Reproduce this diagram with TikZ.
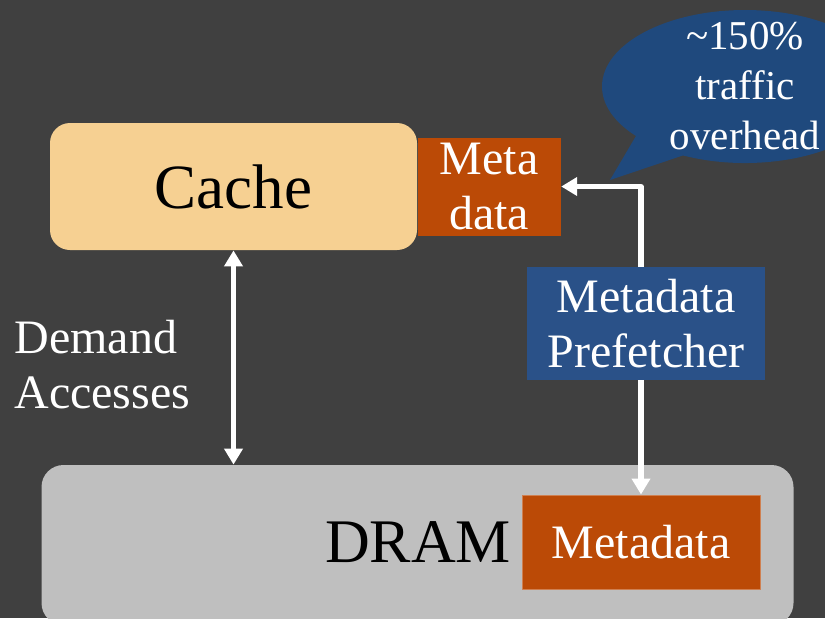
\documentclass[tikz,border=0pt]{standalone}
\usepackage{fontspec}
\setmainfont{Liberation Serif}
\usetikzlibrary{arrows.meta,positioning,shapes.callouts}
\definecolor{bgdark}{HTML}{404040}
\definecolor{cachefill}{HTML}{F6D092}
\definecolor{dramfill}{HTML}{BFBFBF}
\definecolor{metafill}{HTML}{BB4A06}
\definecolor{prefill}{HTML}{2A5188}
\definecolor{bubblefill}{HTML}{1F497D}
\begin{document}
\begin{tikzpicture}[line cap=round,line join=round,x=0.5pt,y=-0.5pt,
	wbox/.style={inner sep=0pt,align=center,text=white,font=\fontsize{24}{27.5}\selectfont},
	flow/.style={draw=white,line width=2.6pt,{Triangle[width=9pt,length=8pt]}-{Triangle[width=9pt,length=8pt]}}]
	\useasboundingbox (0,0) rectangle (825,618);
	\clip (0,0) rectangle (825,618);
	\fill[bgdark] (0,0) rectangle (825,618);
	% boxes
	\node[fill=cachefill,rounded corners=10pt,minimum width=183.5pt,minimum height=63.5pt,inner sep=0pt,
		font=\fontsize{31.5}{36}\selectfont] (cache) at (233.5,186.5) {Cache};
	\node[wbox,fill=metafill,minimum width=71.5pt,minimum height=49pt,right=0pt of cache] (meta) {Meta\\data};
	\node[fill=dramfill,rounded corners=11pt,minimum width=376pt,minimum height=80pt,inner sep=0pt] (dram) at (417.5,545) {};
	\node[wbox,fill=metafill,draw=metafill!70!white,line width=0.5pt,minimum width=119pt,minimum height=47pt] (dmeta) at (641,542) {Metadata};
	\node[inner sep=0pt,font=\fontsize{31}{36}\selectfont,left=5pt of dmeta] (dramlbl) {DRAM};
	% arrows
	\draw[flow] (cache.south) -- (cache.south |- dram.north);
	\draw[flow] (meta.east) -| (dmeta.north);
	\node[wbox,fill=prefill,minimum width=119pt,minimum height=56.5pt] (pref) at (646,323.5) {Metadata\\Prefetcher};
	\node[wbox,align=left,anchor=west] (demand) at (14,365) {Demand\\Accesses};
	% callout
	\coordinate (tip) at (610,180);
	\node[ellipse callout,fill=bubblefill,minimum width=143pt,minimum height=76.5pt,inner sep=0pt,
		callout absolute pointer={(tip)},callout pointer arc=24] (bubble) at (745,86.5) {};
	\node[wbox,font=\fontsize{20.5}{25}\selectfont] (bubbletxt) at (bubble.center) {\char`\~150\%\\traffic\\overhead};
\end{tikzpicture}
\end{document}
